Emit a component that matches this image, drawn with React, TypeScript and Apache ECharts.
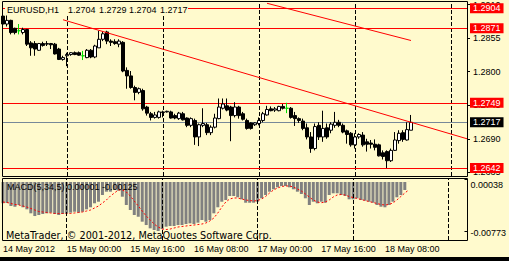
import React, { useEffect, useRef } from 'react';
import * as echarts from 'echarts';

// ---- DATA ----
const opens = [1.2891,1.2878,1.2884,1.2871,1.2867,1.2864,1.2869,1.2847,1.2846,1.2835,
1.2846,1.2845,1.2846,1.2845,1.2837,1.2820,1.2826,1.2828,1.2831,1.2831,
1.2826,1.2823,1.2835,1.2824,1.2839,1.2853,1.2865,1.2850,1.2849,1.2845,
1.2848,1.2802,1.2793,1.2774,1.2766,1.2769,1.2742,1.2731,1.2725,1.2725,
1.2733,1.2734,1.2734,1.2728,1.2723,1.2731,1.2724,1.2712,1.2720,1.2693,
1.2712,1.2713,1.2700,1.2709,1.2723,1.2740,1.2744,1.2742,1.2728,1.2742,
1.2731,1.2720,1.2716,1.2713,1.2715,1.2720,1.2729,1.2739,1.2737,1.2736,
1.2743,1.2740,1.2740,1.2728,1.2723,1.2719,1.2708,1.2693,1.2674,1.2712,
1.2693,1.2708,1.2704,1.2712,1.2717,1.2712,1.2703,1.2699,1.2680,1.2693,
1.2696,1.2685,1.2683,1.2681,1.2680,1.2667,1.2669,1.2654,1.2671,1.2687,
1.2700,1.2688,1.2704];
const closes = [1.2878,1.2884,1.2864,1.2864,1.2867,1.2869,1.2845,1.2839,1.2837,1.2846,
1.2843,1.2846,1.2844,1.2829,1.2820,1.2823,1.2828,1.2831,1.2828,1.2827,
1.2826,1.2835,1.2824,1.2842,1.2853,1.2862,1.2850,1.2848,1.2846,1.2850,
1.2801,1.2793,1.2774,1.2766,1.2772,1.2739,1.2732,1.2725,1.2729,1.2734,
1.2734,1.2735,1.2724,1.2724,1.2732,1.2721,1.2712,1.2723,1.2693,1.2713,
1.2715,1.2700,1.2709,1.2724,1.2742,1.2747,1.2737,1.2728,1.2742,1.2728,
1.2722,1.2707,1.2707,1.2716,1.2720,1.2731,1.2738,1.2736,1.2739,1.2743,
1.2740,1.2740,1.2725,1.2723,1.2720,1.2707,1.2693,1.2674,1.2710,1.2693,
1.2707,1.2693,1.2714,1.2717,1.2712,1.2701,1.2697,1.2680,1.2693,1.2697,
1.2680,1.2681,1.2681,1.2676,1.2662,1.2661,1.2654,1.2671,1.2688,1.2699,
1.2689,1.2705,1.2717];
const lows = [1.2876,1.2874,1.2861,1.2861,1.2861,1.2861,1.2842,1.2826,1.2826,1.2834,
1.2841,1.2842,1.2837,1.2828,1.2819,1.2818,1.2809,1.2826,1.2827,1.2826,
1.2819,1.2822,1.2822,1.2822,1.2839,1.2850,1.2845,1.2842,1.2844,1.2840,
1.2799,1.2772,1.2772,1.2753,1.2763,1.2736,1.2728,1.2720,1.2723,1.2723,
1.2725,1.2733,1.2723,1.2722,1.2721,1.2720,1.2709,1.2709,1.2680,1.2678,
1.2709,1.2696,1.2696,1.2707,1.2722,1.2738,1.2735,1.2686,1.2725,1.2723,
1.2720,1.2705,1.2705,1.2711,1.2712,1.2717,1.2728,1.2735,1.2734,1.2735,
1.2738,1.2732,1.2723,1.2711,1.2716,1.2704,1.2689,1.2667,1.2671,1.2688,
1.2685,1.2690,1.2699,1.2708,1.2709,1.2699,1.2682,1.2677,1.2674,1.2690,
1.2677,1.2669,1.2674,1.2671,1.2661,1.2656,1.2642,1.2652,1.2670,1.2682,
1.2685,1.2687,1.2704];
const highs = [1.2904,1.2892,1.2885,1.2872,1.2878,1.2872,1.2870,1.2850,1.2850,1.2847,
1.2849,1.2850,1.2847,1.2847,1.2839,1.2826,1.2831,1.2832,1.2833,1.2833,
1.2834,1.2837,1.2837,1.2844,1.2867,1.2866,1.2867,1.2853,1.2853,1.2853,
1.2850,1.2807,1.2801,1.2777,1.2774,1.2772,1.2744,1.2734,1.2734,1.2736,
1.2736,1.2736,1.2736,1.2731,1.2734,1.2734,1.2725,1.2725,1.2723,1.2715,
1.2740,1.2716,1.2712,1.2731,1.2756,1.2756,1.2756,1.2744,1.2750,1.2744,
1.2734,1.2723,1.2717,1.2717,1.2725,1.2734,1.2744,1.2743,1.2742,1.2744,
1.2747,1.2749,1.2742,1.2734,1.2725,1.2723,1.2715,1.2701,1.2715,1.2717,
1.2736,1.2715,1.2717,1.2734,1.2721,1.2715,1.2705,1.2701,1.2699,1.2699,
1.2701,1.2690,1.2688,1.2689,1.2682,1.2671,1.2671,1.2674,1.2701,1.2704,
1.2704,1.2717,1.2729];

const macdMain = [-0.00336,-0.00331,-0.00379,-0.00390,-0.00363,-0.00399,-0.00431,-0.00494,-0.00537,-0.00521,
-0.00505,-0.00494,-0.00484,-0.00505,-0.00521,-0.00505,-0.00494,-0.00484,-0.00469,-0.00484,
-0.00469,-0.00431,-0.00399,-0.00336,-0.00311,-0.00205,-0.00153,-0.00153,-0.00126,-0.00137,
-0.00232,-0.00363,-0.00442,-0.00521,-0.00548,-0.00626,-0.00679,-0.00731,-0.00757,-0.00773,
-0.00742,-0.00705,-0.00694,-0.00694,-0.00679,-0.00679,-0.00663,-0.00652,-0.00663,-0.00642,
-0.00600,-0.00626,-0.00600,-0.00494,-0.00399,-0.00311,-0.00284,-0.00221,-0.00221,-0.00241,
-0.00273,-0.00327,-0.00327,-0.00327,-0.00311,-0.00257,-0.00205,-0.00153,-0.00115,-0.00084,
-0.00063,-0.00063,-0.00084,-0.00115,-0.00153,-0.00189,-0.00257,-0.00363,-0.00311,-0.00336,
-0.00311,-0.00327,-0.00205,-0.00178,-0.00178,-0.00205,-0.00221,-0.00273,-0.00273,-0.00257,
-0.00284,-0.00295,-0.00311,-0.00327,-0.00363,-0.00390,-0.00399,-0.00363,-0.00311,-0.00241,
-0.00205,-0.00126,0.00001];
const macdSignal = [-0.00316,-0.00323,-0.00339,-0.00355,-0.00363,-0.00379,-0.00395,-0.00418,-0.00442,-0.00466,
-0.00473,-0.00481,-0.00489,-0.00497,-0.00497,-0.00497,-0.00497,-0.00497,-0.00489,-0.00481,
-0.00473,-0.00458,-0.00442,-0.00410,-0.00379,-0.00331,-0.00284,-0.00221,-0.00174,-0.00126,
-0.00126,-0.00158,-0.00221,-0.00300,-0.00379,-0.00458,-0.00537,-0.00600,-0.00663,-0.00710,
-0.00742,-0.00750,-0.00742,-0.00726,-0.00710,-0.00702,-0.00694,-0.00686,-0.00679,-0.00671,
-0.00663,-0.00647,-0.00615,-0.00568,-0.00489,-0.00395,-0.00316,-0.00268,-0.00252,-0.00252,
-0.00268,-0.00284,-0.00292,-0.00300,-0.00292,-0.00268,-0.00229,-0.00174,-0.00126,-0.00095,
-0.00071,-0.00063,-0.00063,-0.00079,-0.00110,-0.00142,-0.00189,-0.00237,-0.00284,-0.00316,
-0.00327,-0.00316,-0.00284,-0.00237,-0.00205,-0.00197,-0.00205,-0.00229,-0.00245,-0.00260,
-0.00276,-0.00292,-0.00308,-0.00323,-0.00339,-0.00355,-0.00363,-0.00355,-0.00331,-0.00284,
-0.00229,-0.00174,-0.00125];

const slotCount = 117; // hourly slots incl. empty right shift
const firstDay = 14;
const firstHour = 8;
const timeLabelIdx = [0, 16, 32, 48, 64, 80, 96];
const timeLabels = ['14 May 2012', '15 May 00:00', '15 May 16:00', '16 May 08:00', '17 May 00:00', '17 May 16:00', '18 May 08:00'];
const dayLineIdx = [16, 40, 64, 88, 112];
const priceTicks = [1.2635, 1.2690, 1.2745, 1.2800, 1.2855, 1.2910];
const macdTicks = [0.00038, -0.00773];
const levelPrices = [1.2904, 1.2871, 1.2749, 1.2642];
const bidPrice = 1.2717;
const trendA = [[15, 1.2885], [116, 1.2690]];
const trendB = [[66, 1.2912], [102, 1.2851]];
const titleParts = ['EURUSD,H1', '1.2704', '1.2729', '1.2704', '1.2717'];
const macdText = 'MACD(5,34,5) 0.00001 -0.00125';
const footerText = 'MetaTrader, \u00a9 2001-2012, MetaQuotes Software Corp.';

const categories: string[] = [];
for (let i = 0; i < slotCount; i++) {
  const t = firstHour + i;
  const d = firstDay + Math.floor(t / 24);
  const h = t % 24;
  categories.push(`${d} May ${h < 10 ? '0' + h : h}:00`);
}

const BG = '#FFFACD';
const FONT = '"Liberation Sans", Arial, sans-serif';
const titleX = [7, 68, 99, 129, 160];

export default function App() {
  const ref = useRef<HTMLDivElement>(null);
  useEffect(() => {
    if (!ref.current) return;
    const chart = echarts.init(ref.current, null, { renderer: 'svg' });
    const candles = opens.map((o, i) => [o, closes[i], lows[i], highs[i]]);
    const last = categories.length - 1;
    const boxLabel = (bg: string, p: number) => ({
      show: true,
      position: 'end',
      distance: 3,
      formatter: p.toFixed(4),
      color: '#fff',
      backgroundColor: bg,
      padding: [1, 3, 0, 3],
      fontSize: 9,
      lineHeight: 9,
      fontFamily: FONT,
    });
    const hLines: any[] = levelPrices.map((p) => [
      { coord: [categories[0], p], lineStyle: { color: '#ff0000', width: 1, type: 'solid' }, label: boxLabel('#ff0000', p) },
      { coord: [categories[last], p] },
    ]);
    hLines.push([
      { coord: [categories[0], bidPrice], lineStyle: { color: '#778899', width: 1, type: 'solid' }, label: boxLabel('#000000', bidPrice) },
      { coord: [categories[last], bidPrice] },
    ]);
    const vLines = dayLineIdx.map((i) => ({
      xAxis: categories[i],
      lineStyle: { color: '#000', width: 1, type: [4, 2] },
      label: { show: false },
    }));

    const titleGraphics = titleParts.map((t, k) => ({
      type: 'text', z: 101, x: titleX[k], y: 10, silent: true,
      style: { text: t, font: `9px ${FONT}`, fill: '#000', align: 'left', verticalAlign: 'middle' },
    }));

    const option: any = {
      animation: false,
      backgroundColor: BG,
      grid: [
        { left: 1, top: 1, width: 468, height: 175 },
        { left: 1, top: 178, width: 468, height: 62 },
      ],
      xAxis: [
        {
          type: 'category', gridIndex: 0, data: categories, show: false,
        },
        {
          type: 'category', gridIndex: 1, data: categories,
          axisLine: { show: false },
          axisTick: {
            show: true, alignWithLabel: true, length: 3,
            interval: (i: number) => timeLabelIdx.includes(i),
            lineStyle: { color: '#000' },
          },
          axisLabel: {
            interval: (i: number) => timeLabelIdx.includes(i),
            formatter: (_v: string, i: number) => {
              const k = timeLabelIdx.indexOf(i);
              return k >= 0 ? timeLabels[k] : '';
            },
            align: 'left', margin: 4, fontSize: 9, color: '#000', fontFamily: FONT,
          },
          splitLine: { show: false },
        },
      ],
      yAxis: [
        {
          type: 'value', gridIndex: 0, position: 'right', offset: -2,
          min: 1.2629, max: 1.2913,
          splitLine: { show: false },
          axisLine: { show: false },
          axisTick: { show: true, length: 3, customValues: priceTicks, lineStyle: { color: '#000' } },
          axisLabel: {
            customValues: priceTicks,
            formatter: (v: number) => v.toFixed(4),
            margin: 6, fontSize: 9, color: '#000', fontFamily: FONT,
          },
        },
        {
          type: 'value', gridIndex: 1, position: 'right', offset: -2,
          min: -0.00915, max: 0.00063,
          splitLine: { show: false },
          axisLine: { show: false },
          axisTick: { show: true, length: 3, customValues: macdTicks, lineStyle: { color: '#000' } },
          axisLabel: {
            customValues: macdTicks,
            formatter: (v: number) => (v > 0 ? `{a|${v.toFixed(5)}}` : `{b|${v.toFixed(5)}}`),
            margin: 6, fontSize: 9, color: '#000', fontFamily: FONT,
            rich: {
              a: { padding: [10, 0, 0, 0], fontSize: 9, fontFamily: FONT, color: '#000' },
              b: { padding: [4, 0, 0, 0], fontSize: 9, fontFamily: FONT, color: '#000' },
            },
          },
        },
      ],
      series: [
        {
          type: 'candlestick', xAxisIndex: 0, yAxisIndex: 0, data: candles, barWidth: 3, z: 2,
          itemStyle: {
            color: '#ffffff', color0: '#000000', borderColor: '#000000', borderColor0: '#000000',
            borderColorDoji: '#00e000', borderWidth: 1,
          },
          markLine: {
            silent: true, symbol: ['none', 'none'], animation: false, z: 1,
            data: [...vLines, ...hLines],
          },
        },
        {
          type: 'line', xAxisIndex: 0, yAxisIndex: 0, data: trendA, symbol: 'none', silent: true, z: 3,
          lineStyle: { color: '#ff0000', width: 1 },
        },
        {
          type: 'line', xAxisIndex: 0, yAxisIndex: 0, data: trendB, symbol: 'none', silent: true, z: 3,
          lineStyle: { color: '#ff0000', width: 1 },
        },
        {
          type: 'bar', xAxisIndex: 1, yAxisIndex: 1, data: macdMain, barWidth: 3,
          itemStyle: { color: '#808080' },
          markLine: {
            silent: true, symbol: ['none', 'none'], animation: false,
            data: vLines,
          },
        },
        {
          type: 'line', xAxisIndex: 1, yAxisIndex: 1, data: macdSignal, symbol: 'none', silent: true,
          lineStyle: { color: '#ff0000', width: 1, type: [2, 2] },
        },
      ],
      graphic: [
        {
          type: 'rect', z: 100, silent: true,
          shape: { x: 2.5, y: 1.5, width: 465, height: 175 },
          style: { fill: 'none', stroke: '#000', lineWidth: 1 },
        },
        {
          type: 'rect', z: 100, silent: true,
          shape: { x: 2.5, y: 178.5, width: 465, height: 62 },
          style: { fill: 'none', stroke: '#000', lineWidth: 1 },
        },
        {
          type: 'rect', z: 99, silent: true,
          shape: { x: 5, y: 4, width: 183, height: 11 },
          style: { fill: BG },
        },
        ...titleGraphics,
        {
          type: 'text', z: 100, x: 7, y: 187, silent: true,
          style: { text: macdText, font: `9px ${FONT}`, fill: '#000', align: 'left', verticalAlign: 'middle' },
        },
        {
          type: 'text', z: 100, x: 6, y: 235, silent: true,
          style: { text: footerText, font: '9.7px "DejaVu Sans", sans-serif', fill: '#000', align: 'left', verticalAlign: 'middle' },
        },
        {
          type: 'rect', z: 100, silent: true,
          shape: { x: 0, y: 257, width: 509, height: 4 },
          style: { fill: '#000' },
        },
      ],
    };
    chart.setOption(option);
    return () => chart.dispose();
  }, []);
  return (
    <div
      ref={ref}
      style={{ position: 'fixed', left: 0, top: 0, width: 509, height: 261, background: BG }}
    />
  );
}
